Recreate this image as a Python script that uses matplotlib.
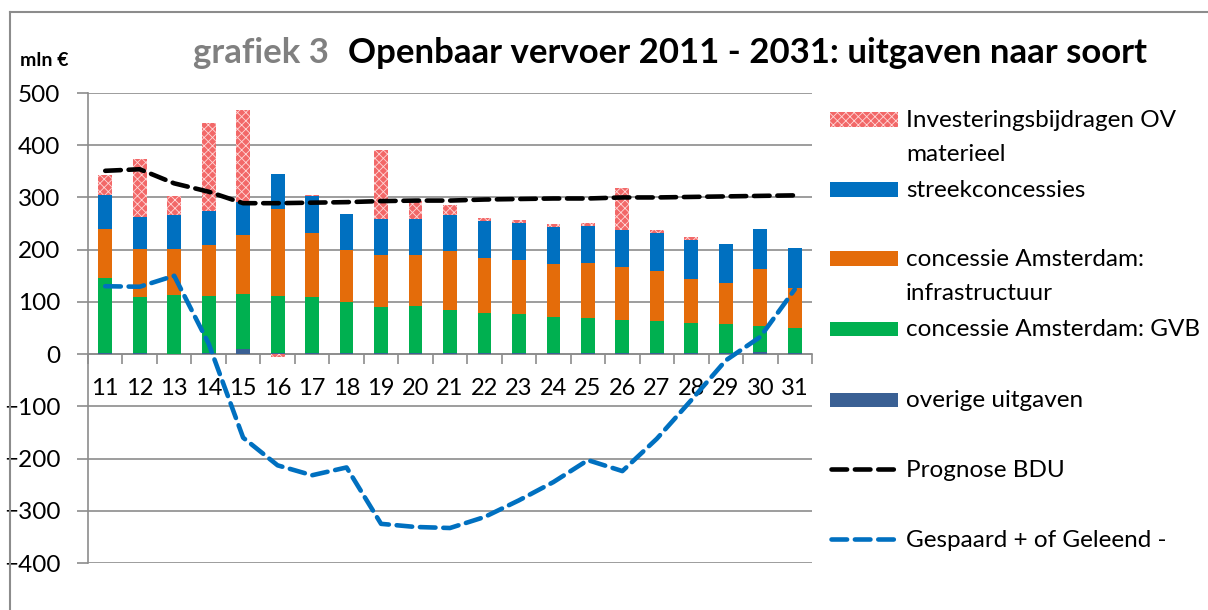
import matplotlib
matplotlib.use('Agg')
import matplotlib.pyplot as plt
import numpy as np
from matplotlib.patches import Rectangle
from matplotlib.lines import Line2D

# data (mln euro)
years = ['11', '12', '13', '14', '15', '16', '17', '18', '19', '20', '21',
         '22', '23', '24', '25', '26', '27', '28', '29', '30', '31']
overige = [3, 2, 1, 3, 10, 3, 3, 3, 3, 3, 3, 3, 3, 3, 3, 3, 3, 3, 3, 4, 3]
gvb = [143, 107, 113, 108, 106, 108, 106, 97, 87, 89, 82, 76, 74, 69, 67, 63, 60, 57, 54, 50, 47]
infra = [94, 92, 87, 98, 113, 166, 122, 100, 100, 98, 113, 105, 104, 100, 105, 100, 97, 84, 80, 109, 76]
streek = [65, 62, 65, 66, 63, 67, 71, 68, 68, 69, 69, 70, 71, 71, 71, 71, 72, 75, 74, 76, 77]
invest = [38, 110, 37, 168, 176, -5, 2, 1, 132, 34, 19, 7, 5, 6, 6, 81, 6, 5, 0, 0, 0]
prognose = [351, 354, 327, 311, 289, 289, 290, 291, 293, 294, 294, 296, 297, 298, 298, 300, 300, 301, 302, 303, 304]
gespaard = [130, 129, 150, 20, -160, -213, -232, -217, -325, -331, -333, -312, -280, -245, -203, -224, -162, -88, -12, 33, 124]

series = [
    ('overige uitgaven', overige, '#3a6094'),
    ('concessie Amsterdam: GVB', gvb, '#00b050'),
    ('concessie Amsterdam:\ninfrastructuur', infra, '#e46c0a'),
    ('streekconcessies', streek, '#0070c0'),
    ('Investeringsbijdragen OV\nmaterieel', invest, '#f26868'),
]

W, H = 1208, 610
plt.rcParams['font.family'] = ['Lato', 'DejaVu Sans']
plt.rcParams['hatch.linewidth'] = 0.6

fig = plt.figure(figsize=(W / 100, H / 100), dpi=100)
ax = fig.add_axes([88 / W, 1 - 563 / H, (812 - 88) / W, (563 - 93) / H])

x = np.arange(len(years))
pos_bottom = np.zeros(len(years))
neg_bottom = np.zeros(len(years))
for name, vals, col in series:
    vals = np.array(vals, dtype=float)
    bottom = np.where(vals >= 0, pos_bottom, neg_bottom)
    if name.startswith('Invest'):
        ax.bar(x, vals, 0.4, bottom=bottom, color=col, edgecolor='#ffd8d8',
               linewidth=0, hatch='xxxx', zorder=3)
    else:
        ax.bar(x, vals, 0.4, bottom=bottom, color=col, linewidth=0, zorder=3)
    pos_bottom += np.where(vals >= 0, vals, 0)
    neg_bottom += np.where(vals < 0, vals, 0)

dash = dict(linewidth=3.3, dashes=(3.4, 1.7), dash_capstyle='round', zorder=4)
ax.plot(x, prognose, color='black', **dash)
ax.plot(x, gespaard, color='#0070c0', **dash)

grid_col = '#8c8c8c'
ax.set_xlim(-0.5, len(years) - 0.5)
ax.set_ylim(-400, 500)
ax.set_yticks(range(-400, 501, 100))
ax.yaxis.grid(True, color=grid_col, linewidth=1.2, zorder=0)
ax.tick_params(axis='y', length=8, width=1.2, color=grid_col, labelsize=17.5, pad=12)

ax.spines['bottom'].set_position(('data', 0))
ax.spines['bottom'].set_color(grid_col)
ax.spines['bottom'].set_linewidth(1.2)
ax.spines['bottom'].set_zorder(2)
ax.spines['left'].set_color(grid_col)
ax.spines['left'].set_linewidth(1.2)
ax.spines['top'].set_visible(False)
ax.spines['right'].set_visible(False)
ax.set_xticks(x)
ax.set_xticklabels(years)
ax.set_xticks(np.arange(-0.5, len(years), 1.0), minor=True)
ax.tick_params(axis='x', which='major', length=0, labelsize=17, pad=17)
ax.tick_params(axis='x', which='minor', length=7, width=1.2, color=grid_col)

# titles
def fy(py):
    return 1 - py / H

fig.text(193 / W, fy(63), 'grafiek 3', fontsize=25, fontweight='bold', color='#808080')
fig.text(348 / W, fy(63), 'Openbaar vervoer 2011 - 2031: uitgaven naar soort',
         fontsize=25, fontweight='bold', color='black')
fig.text(20 / W, fy(66), 'mln €', fontsize=14, fontweight='bold')

# legend, drawn by hand to follow the Excel layout
leg = [
    ('Investeringsbijdragen OV', 'materieel', 127, '#f26868', 'patch'),
    ('streekconcessies', None, 197, '#0070c0', 'patch'),
    ('concessie Amsterdam:', 'infrastructuur', 266, '#e46c0a', 'patch'),
    ('concessie Amsterdam: GVB', None, 336, '#00b050', 'patch'),
    ('overige uitgaven', None, 407, '#3a6094', 'patch'),
    ('Prognose BDU', None, 477, 'black', 'line'),
    ('Gespaard + of Geleend -', None, 547, '#0070c0', 'line'),
]
for line1, line2, base, col, kind in leg:
    if kind == 'patch':
        r = Rectangle((830 / W, fy(base)), 68 / W, 14.5 / H, transform=fig.transFigure,
                      facecolor=col, linewidth=0,
                      hatch='xxxx' if line1.startswith('Invest') else None,
                      edgecolor='#ffd8d8')
        fig.add_artist(r)
    else:
        fig.add_artist(Line2D([831 / W, 896 / W], [fy(base - 8)] * 2,
                              transform=fig.transFigure, color=col, **dash))
    fig.text(906 / W, fy(base), line1, fontsize=17.5, va='baseline')
    if line2:
        fig.text(906 / W, fy(base + 33.5), line2, fontsize=17.5, va='baseline')

# chart frame
fig.add_artist(Line2D([10 / W, 1], [fy(12), fy(12)], transform=fig.transFigure,
                      color=grid_col, linewidth=1.5))
fig.add_artist(Line2D([10 / W, 10 / W], [fy(12), 0], transform=fig.transFigure,
                      color=grid_col, linewidth=1.5))

fig.savefig('out.png', dpi=100)
